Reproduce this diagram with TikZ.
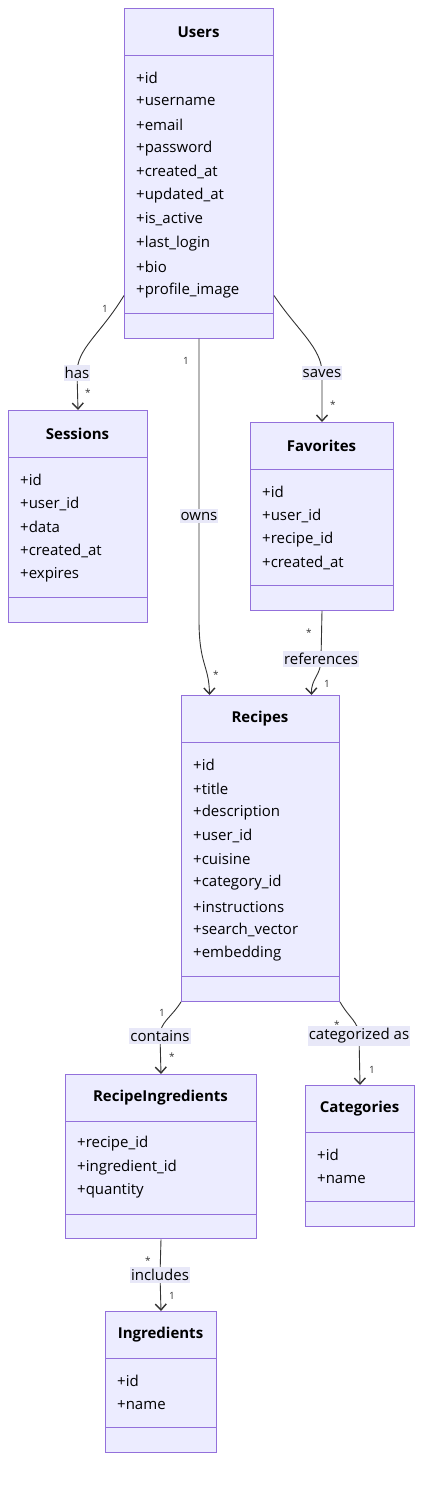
\documentclass[tikz,border=0pt]{standalone}
\usepackage{fontspec}
\setmainfont{Open Sans}
\usetikzlibrary{arrows.meta}

\definecolor{classfill}{HTML}{ECECFF}
\definecolor{classline}{HTML}{9370DB}
\definecolor{edgecol}{HTML}{333333}
\definecolor{labelbg}{RGB}{232,232,248}

\tikzset{
  classbox/.style={draw=classline, fill=classfill, line width=1pt, inner sep=0pt},
  classtitle/.style={font=\fontsize{15}{17}\selectfont\bfseries, text=black},
  attrtext/.style={anchor=west, inner sep=0pt, font=\fontsize{15}{17}\selectfont, text=black},
  divider/.style={draw=classline, line width=1pt},
  rel/.style={draw=edgecol, line width=0.9pt, -{Straight Barb[length=6pt,width=11pt,line width=1.4pt]}},
  rellabel/.style={fill=labelbg, text=black, inner xsep=1pt, inner ysep=2.5pt, font=\fontsize{15}{17}\selectfont},
  mult/.style={text=edgecol, inner sep=0pt, font=\fontsize{10}{11}\selectfont}
}

% class box: name, left, top, width, number of attributes, title, attributes
\newcommand{\umlclass}[7]{%
  \node[classbox, anchor=north west, minimum width=#4pt, minimum height={93.5pt+23.6pt*#5}] (#1) at (#2,#3) {};
  \node[classtitle] (#1-title) at ({#2+#4/2},{#3+23.75}) {#6};
  \draw[divider] (#2,{#3+47.5}) -- ++(#4,0);
  \draw[divider] (#2,{#3+69.5+23.6*#5}) -- ++(#4,0);
  \foreach \a [count=\i] in {#7}
    \node[attrtext] (#1-a\i) at ({#2+12},{#3+47.5+22.5+23.6*(\i-1)}) {+\a};
}

\begin{document}
\begin{tikzpicture}[x=1pt, y=-1pt]
  \useasboundingbox (0,0) rectangle (430,1488);

  \umlclass{users}{124}{8}{149}{10}{Users}{id,username,email,password,created\_at,updated\_at,is\_active,last\_login,bio,profile\_image}
  \umlclass{sessions}{8}{410}{139}{5}{Sessions}{id,user\_id,data,created\_at,expires}
  \umlclass{favorites}{250}{422}{143}{4}{Favorites}{id,user\_id,recipe\_id,created\_at}
  \umlclass{recipes}{181}{695}{158}{9}{Recipes}{id,title,description,user\_id,cuisine,category\_id,instructions,search\_vector,embedding}
  \umlclass{recipeing}{65}{1074}{191}{3}{RecipeIngredients}{recipe\_id,ingredient\_id,quantity}
  \umlclass{categories}{305}{1085}{109}{2}{Categories}{id,name}
  \umlclass{ingredients}{105}{1311}{111}{2}{Ingredients}{id,name}

  % relations
  \draw[rel] ([yshift=43pt]users.south west) .. controls (100,335) and (77,348) .. (77,373)
    node[rellabel, pos=1] (has) {has} -- (sessions.north);
  \draw[rel] (users.south) -- (199,516) node[rellabel, pos=1] (owns) {owns}
    -- (199,620) .. controls (199,665) and (209,665) .. ([xshift=-51pt]recipes.north);
  \draw[rel] ([yshift=43pt]users.south east) .. controls (297,330) and (322,348) .. (322,373)
    node[rellabel, pos=1] (saves) {saves} -- (favorites.north);
  \draw[rel] (favorites.south) -- (321,659) node[rellabel, pos=1] (refs) {references}
    .. controls (321,676) and (311,678) .. ([xshift=51pt]recipes.north);
  \draw[rel] (recipes.south west) .. controls (171,1018) and (160,1022) .. (160,1036)
    node[rellabel, pos=1] (contains) {contains} -- (recipeing.north);
  \draw[rel] (recipes.south east) .. controls (349,1018) and (359,1022) .. (359,1036)
    node[rellabel, pos=1] (catas) {categorized as} -- (categories.north);
  \draw[rel] (recipeing.south) -- (160,1275) node[rellabel, pos=1] (includes) {includes}
    -- (ingredients.north);

  % multiplicities
  \node[mult] (m1a) at (105,309) {1};
  \node[mult] (m1b) at (88,393) {*};
  \node[mult] (m2a) at (186,361) {1};
  \node[mult] (m2b) at (216,675) {*};
  \node[mult] (m3b) at (333,405) {*};
  \node[mult] (m4a) at (309,633) {*};
  \node[mult] (m4b) at (327,684) {1};
  \node[mult] (m5a) at (162,1013) {1};
  \node[mult] (m5b) at (172,1057) {*};
  \node[mult] (m6a) at (337,1025) {*};
  \node[mult] (m6b) at (372,1070) {1};
  \node[mult] (m7a) at (148,1261) {*};
  \node[mult] (m7b) at (172,1296) {1};
\end{tikzpicture}
\end{document}
